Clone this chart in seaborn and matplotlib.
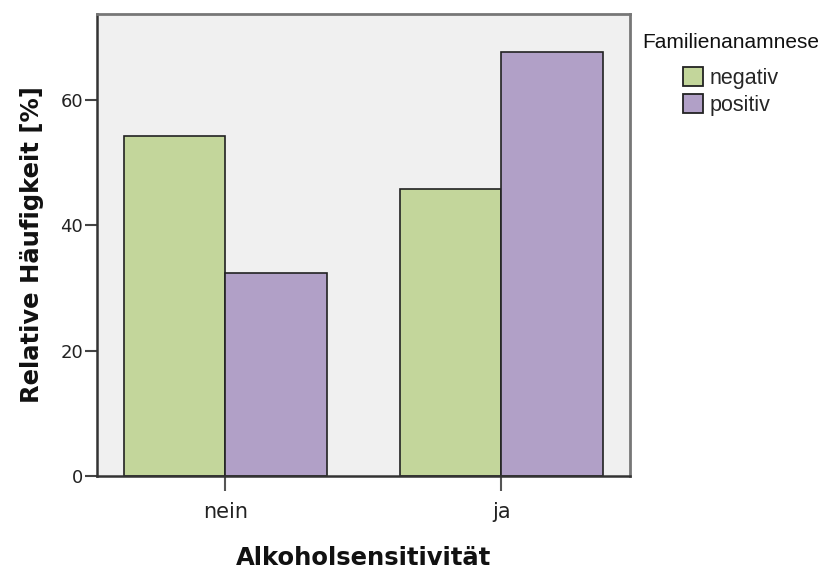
import pandas as pd
import matplotlib.pyplot as plt
import seaborn as sns

# Daten
kategorien = ["nein", "ja"]
familie = ["negativ", "positiv"]
werte_negativ = [54.2, 45.8]
werte_positiv = [32.3, 67.7]

df = pd.DataFrame({
    "Alkoholsensitivität": kategorien * 2,
    "Familienanamnese": [familie[0]] * 2 + [familie[1]] * 2,
    "Prozent": werte_negativ + werte_positiv,
})

sns.set_style("white")
plt.rcParams["font.family"] = ["DejaVu Sans"]

fig = plt.figure(figsize=(8.18, 5.72), dpi=100)
ax = fig.add_axes([0.1186, 0.168, 0.651, 0.8075])
ax.set_facecolor("#F0F0F0")

sns.barplot(
    data=df, x="Alkoholsensitivität", y="Prozent", hue="Familienanamnese",
    order=kategorien, hue_order=familie,
    palette=["#C3D69B", "#B1A0C7"], saturation=1, width=0.735,
    edgecolor="#222222", linewidth=1.2, ax=ax, legend=True,
)

ax.set_xlim(-0.464, 1.464)
ax.set_ylim(0, 73.7)
ax.set_yticks([0, 20, 40, 60])
ax.tick_params(axis="y", direction="out", length=9, width=1.5, color="#444444",
               labelsize=13, labelcolor="#222222", left=True, pad=1)
ax.tick_params(axis="x", direction="out", length=11, width=1.5, color="#555555",
               labelsize=15, labelcolor="#222222", bottom=True, pad=8)

for side in ["left", "bottom"]:
    ax.spines[side].set_color("#333333")
    ax.spines[side].set_linewidth(1.8)
for side in ["top", "right"]:
    ax.spines[side].set_color("#777777")
    ax.spines[side].set_linewidth(2.0)

ax.set_ylabel("Relative Häufigkeit [%]", fontsize=17.5, fontweight="bold",
              color="#111111", labelpad=12)
ax.set_xlabel("Alkoholsensitivität", fontsize=17.5, fontweight="bold",
              color="#111111", labelpad=17)

# Legende wie im SPSS-Original: Titel links, Einträge eingerückt
handles, labels = ax.get_legend_handles_labels()
ax.get_legend().remove()
fig.text(642 / 818, 1 - 48 / 572, "Familienanamnese", family="Liberation Sans",
         fontsize=15, color="#111111", ha="left", va="baseline")
leg = fig.legend(handles, labels, loc="upper left",
                 bbox_to_anchor=(683 / 818, 1 - 67 / 572), frameon=False,
                 prop={"family": "Liberation Sans", "size": 15.5},
                 handlelength=0.95, handleheight=0.95, handletextpad=0.3,
                 labelspacing=0.25, borderpad=0, borderaxespad=0)
for h in leg.legend_handles:
    h.set_edgecolor("#222222")
    h.set_linewidth(1.3)

fig.savefig("out.png", dpi=100)
